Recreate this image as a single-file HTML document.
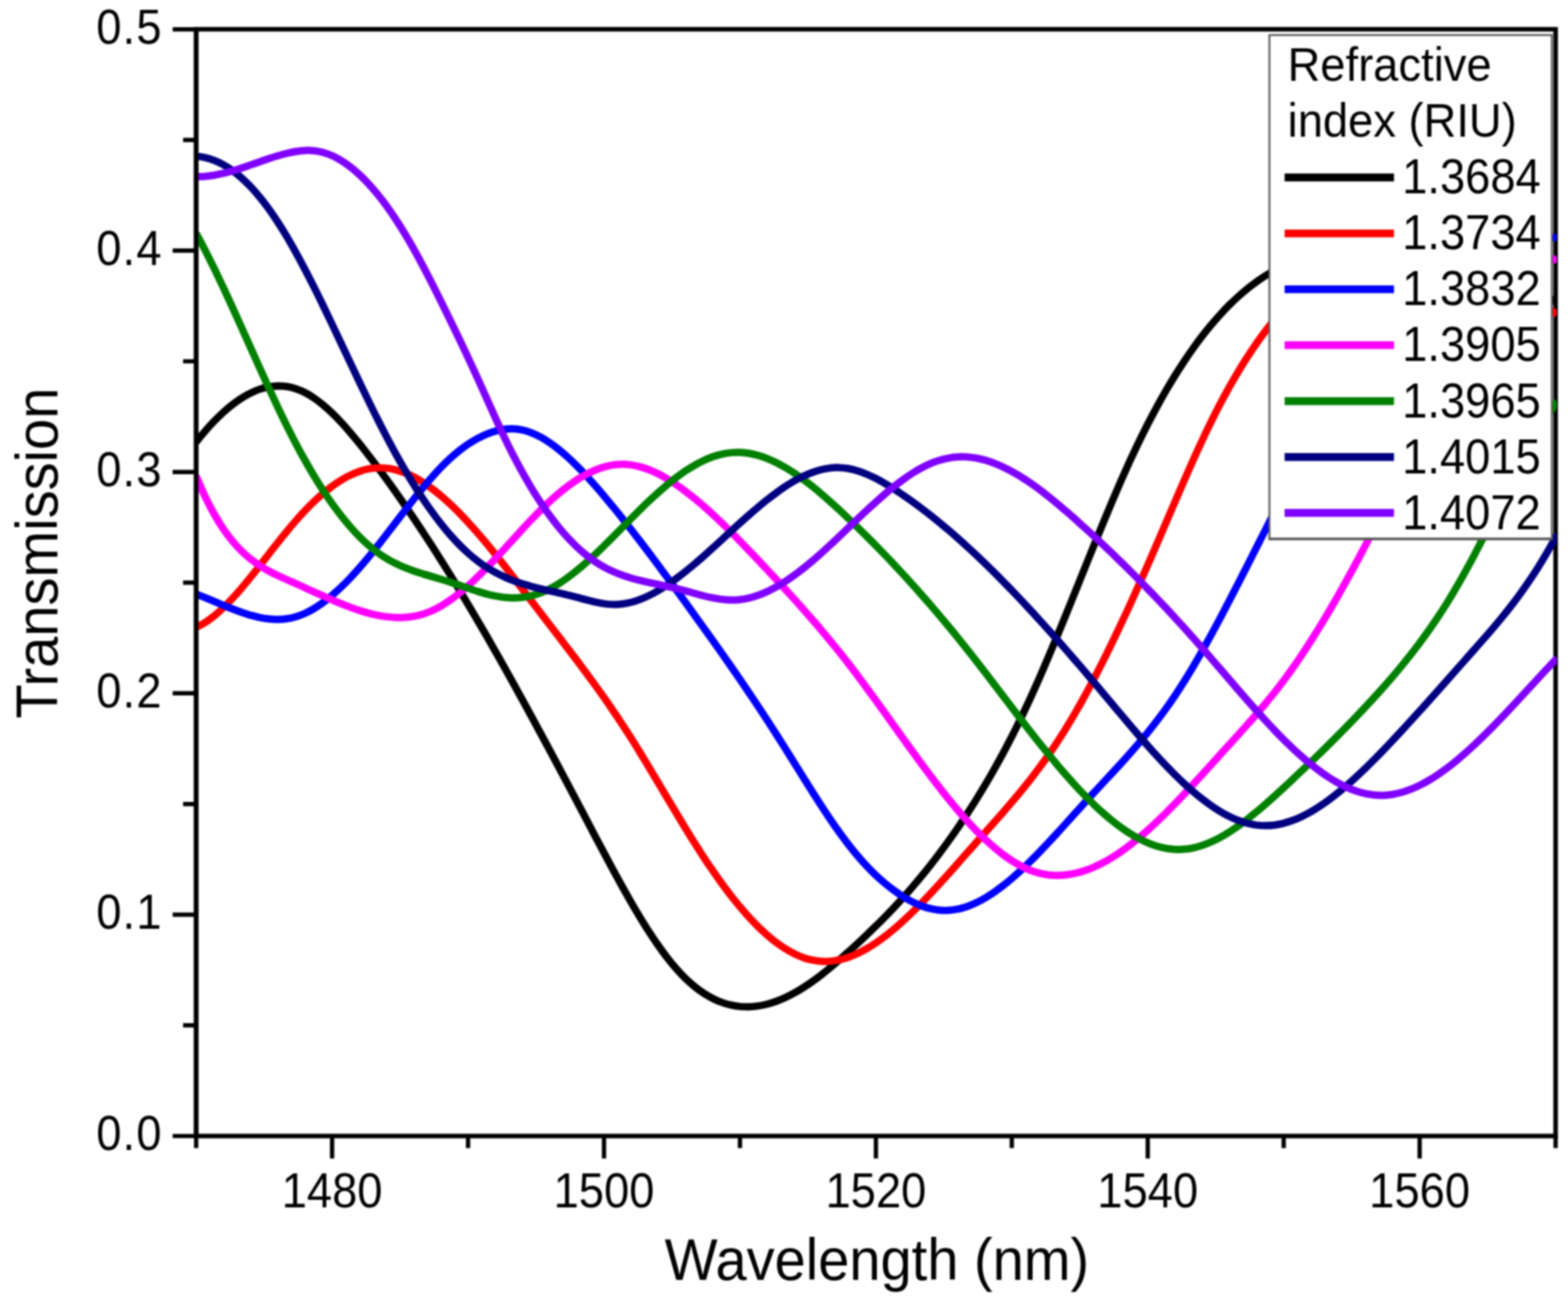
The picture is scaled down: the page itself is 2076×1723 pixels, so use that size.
<!DOCTYPE html>
<html lang="en"><head><meta charset="utf-8"><title>Transmission vs Wavelength</title>
<style>html,body{margin:0;padding:0;background:#fff;}body{width:2076px;height:1723px;overflow:hidden;}svg{display:block;}text{font-family:"Liberation Sans",Arial,sans-serif;fill:#000;stroke:none;stroke-width:0px;}.tk{font-size:60px;}.ty{letter-spacing:1.5px;}.ti{font-size:74.2px;}.lg{font-size:60px;}.c{fill:none;stroke-width:9.7;stroke-linecap:butt;stroke-linejoin:round;}.ax{stroke:#000;stroke-width:6;fill:none;}.t{stroke:#000;stroke-width:5.7;fill:none;}.s{stroke-width:10.4;fill:none;}</style></head><body>
<svg width="2076" height="1723" viewBox="0 0 2076 1723">
<defs><clipPath id="cp"><rect x="257.7" y="38.8" width="1803.3" height="1465.7"/></clipPath><filter id="bl" x="0" y="0" width="2076" height="1723" filterUnits="userSpaceOnUse" color-interpolation-filters="sRGB"><feGaussianBlur stdDeviation="0.8"/></filter></defs>
<rect width="2076" height="1723" fill="#fff"/>
<g filter="url(#bl)">
<rect width="2076" height="1723" fill="#fff"/>
<path class="t" d="M228.6 38.8H259.7M242.4 185.4H259.7M228.6 331.9H259.7M242.4 478.5H259.7M228.6 625.1H259.7M242.4 771.6H259.7M228.6 918.2H259.7M242.4 1064.8H259.7M228.6 1211.4H259.7M242.4 1357.9H259.7M228.6 1504.5H259.7M259.7 1504.5V1520.5M439.7 1504.5V1534.3M619.7 1504.5V1520.5M799.7 1504.5V1534.3M979.7 1504.5V1520.5M1159.7 1504.5V1534.3M1339.6 1504.5V1520.5M1519.6 1504.5V1534.3M1699.6 1504.5V1520.5M1879.6 1504.5V1534.3M2059.6 1504.5V1520.5"/>
<path class="ax" d="M259.7 38.8H2059.6V1504.5H259.7Z"/>
<g clip-path="url(#cp)">
<path class="c" stroke="#000000" d="M259.7 585.4C263.7 580.3 267.7 575.5 271.7 570.9C275.7 566.2 279.7 561.8 283.7 557.7C287.7 553.6 291.7 549.7 295.7 546.0C299.7 542.4 303.7 539.0 307.7 535.9C311.7 532.8 315.7 529.9 319.7 527.4C323.7 524.8 327.7 522.5 331.7 520.6C335.7 518.6 339.7 516.9 343.7 515.5C347.7 514.2 351.7 513.1 355.7 512.4C359.7 511.6 363.7 511.2 367.7 511.1C371.7 511.1 375.7 511.3 379.7 511.9C383.7 512.5 387.7 513.5 391.7 514.8C395.7 516.1 399.7 517.8 403.7 519.9C407.7 521.9 411.7 524.3 415.7 527.1C419.7 529.8 423.7 532.9 427.7 536.2C431.7 539.5 435.7 543.1 439.7 547.0C443.7 550.9 447.7 555.0 451.7 559.3C455.7 563.6 459.7 568.1 463.7 572.8C467.7 577.5 471.7 582.3 475.7 587.3C479.7 592.3 483.7 597.4 487.7 602.6C491.7 607.7 495.7 613.0 499.7 618.4C503.7 623.7 507.7 629.2 511.7 634.7C515.7 640.2 519.7 645.8 523.7 651.4C527.7 657.1 531.7 662.8 535.7 668.6C539.7 674.4 543.7 680.3 547.7 686.2C551.7 692.2 555.7 698.2 559.7 704.3C563.7 710.4 567.7 716.5 571.7 722.7C575.7 728.9 579.7 735.2 583.7 741.6C587.7 747.9 591.7 754.3 595.7 760.8C599.7 767.3 603.7 773.8 607.7 780.4C611.7 787.0 615.7 793.7 619.7 800.4C623.7 807.1 627.7 813.9 631.7 820.7C635.7 827.5 639.7 834.4 643.7 841.3C647.7 848.3 651.7 855.3 655.7 862.3C659.7 869.4 663.7 876.4 667.7 883.6C671.7 890.7 675.7 897.9 679.7 905.1C683.7 912.3 687.7 919.6 691.7 926.9C695.7 934.2 699.7 941.5 703.7 948.9C707.7 956.2 711.7 963.6 715.7 971.1C719.7 978.5 723.7 985.9 727.7 993.4C731.7 1000.9 735.7 1008.4 739.7 1015.9C743.7 1023.4 747.7 1031.0 751.7 1038.5C755.7 1046.1 759.7 1053.7 763.7 1061.3C767.7 1068.8 771.7 1076.4 775.7 1084.0C779.7 1091.6 783.7 1099.3 787.7 1106.9C791.7 1114.5 795.7 1122.1 799.7 1129.6C803.7 1137.1 807.7 1144.6 811.7 1152.0C815.7 1159.4 819.7 1166.7 823.7 1173.9C827.7 1181.1 831.7 1188.2 835.7 1195.1C839.7 1202.1 843.7 1208.8 847.7 1215.4C851.7 1222.0 855.7 1228.4 859.7 1234.6C863.7 1240.8 867.7 1246.7 871.7 1252.4C875.7 1258.1 879.7 1263.6 883.7 1268.8C887.7 1273.9 891.7 1278.8 895.7 1283.3C899.7 1287.9 903.7 1292.1 907.7 1296.0C911.7 1299.8 915.7 1303.4 919.7 1306.6C923.7 1309.9 927.7 1312.8 931.7 1315.4C935.7 1318.0 939.7 1320.3 943.7 1322.3C947.7 1324.4 951.7 1326.1 955.7 1327.5C959.7 1329.0 963.7 1330.2 967.7 1331.1C971.7 1332.0 975.7 1332.6 979.7 1333.0C983.7 1333.4 987.7 1333.5 991.7 1333.4C995.7 1333.3 999.7 1332.9 1003.7 1332.3C1007.7 1331.8 1011.7 1330.9 1015.7 1329.9C1019.7 1328.9 1023.7 1327.6 1027.7 1326.2C1031.7 1324.7 1035.7 1323.1 1039.7 1321.2C1043.7 1319.4 1047.7 1317.3 1051.7 1315.1C1055.7 1312.9 1059.7 1310.5 1063.7 1307.9C1067.7 1305.4 1071.7 1302.7 1075.7 1299.8C1079.7 1296.9 1083.7 1293.9 1087.7 1290.8C1091.7 1287.7 1095.7 1284.5 1099.7 1281.1C1103.7 1277.8 1107.7 1274.4 1111.7 1270.9C1115.7 1267.4 1119.7 1263.8 1123.7 1260.2C1127.7 1256.6 1131.7 1252.9 1135.7 1249.2C1139.7 1245.5 1143.7 1241.7 1147.7 1237.9C1151.7 1234.1 1155.7 1230.2 1159.7 1226.3C1163.7 1222.4 1167.7 1218.4 1171.7 1214.3C1175.7 1210.2 1179.7 1206.0 1183.7 1201.8C1187.7 1197.5 1191.7 1193.2 1195.7 1188.7C1199.7 1184.3 1203.7 1179.8 1207.7 1175.1C1211.7 1170.5 1215.7 1165.7 1219.7 1160.9C1223.7 1156.0 1227.7 1151.0 1231.7 1145.9C1235.7 1140.9 1239.7 1135.7 1243.7 1130.3C1247.7 1125.0 1251.7 1119.6 1255.7 1114.0C1259.7 1108.4 1263.7 1102.7 1267.7 1096.9C1271.7 1091.0 1275.7 1085.1 1279.7 1079.0C1283.7 1072.8 1287.7 1066.6 1291.7 1060.2C1295.7 1053.8 1299.7 1047.2 1303.7 1040.5C1307.7 1033.8 1311.7 1026.9 1315.7 1019.8C1319.7 1012.8 1323.7 1005.5 1327.7 998.1C1331.7 990.7 1335.7 983.0 1339.7 975.2C1343.7 967.4 1347.7 959.3 1351.7 951.1C1355.7 942.8 1359.7 934.3 1363.7 925.6C1367.7 916.9 1371.7 908.0 1375.7 898.9C1379.7 889.8 1383.7 880.5 1387.7 871.0C1391.7 861.6 1395.7 852.0 1399.7 842.4C1403.7 832.7 1407.7 822.9 1411.7 813.1C1415.7 803.2 1419.7 793.3 1423.7 783.4C1427.7 773.5 1431.7 763.5 1435.7 753.6C1439.7 743.7 1443.7 733.8 1447.7 723.9C1451.7 714.1 1455.7 704.3 1459.7 694.6C1463.7 684.9 1467.7 675.3 1471.7 665.8C1475.7 656.4 1479.7 647.1 1483.7 637.9C1487.7 628.8 1491.7 619.9 1495.7 611.1C1499.7 602.4 1503.7 593.9 1507.7 585.6C1511.7 577.4 1515.7 569.3 1519.7 561.5C1523.7 553.7 1527.7 546.1 1531.7 538.8C1535.7 531.4 1539.7 524.3 1543.7 517.4C1547.7 510.5 1551.7 503.9 1555.7 497.4C1559.7 490.9 1563.7 484.7 1567.7 478.7C1571.7 472.6 1575.7 466.8 1579.7 461.2C1583.7 455.6 1587.7 450.2 1591.7 445.0C1595.7 439.9 1599.7 434.9 1603.7 430.1C1607.7 425.3 1611.7 420.8 1615.7 416.4C1619.7 412.0 1623.7 407.8 1627.7 403.8C1631.7 399.8 1635.7 396.1 1639.7 392.5C1643.7 388.9 1647.7 385.4 1651.7 382.2C1655.7 379.0 1659.7 376.0 1663.7 373.1C1667.7 370.2 1671.7 367.6 1675.7 365.0C1679.7 362.5 1683.7 360.2 1687.7 358.0C1691.7 355.8 1695.7 353.7 1699.7 351.9C1703.7 350.0 1707.7 348.2 1711.7 346.6C1715.7 345.0 1719.7 343.6 1723.7 342.2C1727.7 340.9 1731.7 339.7 1735.7 338.6C1739.7 337.5 1743.7 336.6 1747.7 335.7C1751.7 334.8 1755.7 334.1 1759.7 333.5C1763.7 332.8 1767.7 332.3 1771.7 331.8C1775.7 331.4 1779.7 331.0 1783.7 330.7C1787.7 330.5 1791.7 330.3 1795.7 330.1C1799.7 330.0 1803.7 330.0 1807.7 330.0C1811.7 330.0 1815.7 330.1 1819.7 330.2C1823.7 330.3 1827.7 330.5 1831.7 330.8C1835.7 331.0 1839.7 331.3 1843.7 331.6C1847.7 331.9 1851.7 332.2 1855.7 332.6C1859.7 333.0 1863.7 333.4 1867.7 333.8C1871.7 334.2 1875.7 334.7 1879.7 335.2C1883.7 335.7 1887.7 336.3 1891.7 336.9C1895.7 337.5 1899.7 338.2 1903.7 338.8C1907.7 339.5 1911.7 340.3 1915.7 341.1C1919.7 341.9 1923.7 342.7 1927.7 343.6C1931.7 344.5 1935.7 345.5 1939.7 346.5C1943.7 347.6 1947.7 348.6 1951.7 349.8C1955.7 350.9 1959.7 352.2 1963.7 353.4C1967.7 354.7 1971.7 356.1 1975.7 357.5C1979.7 359.0 1983.7 360.5 1987.7 362.0C1991.7 363.6 1995.7 365.3 1999.7 367.0C2003.7 368.8 2007.7 370.6 2011.7 372.5C2015.7 374.4 2019.7 376.4 2023.7 378.5C2027.7 380.6 2031.7 382.8 2035.7 385.0C2039.7 387.3 2043.7 389.7 2047.7 392.2C2051.7 394.6 2055.7 397.2 2059.7 399.9C2060.3 400.3 2061.0 400.7 2061.6 401.1"/>
<path class="c" stroke="#ff0000" d="M259.7 830.7C263.7 829.0 267.7 826.8 271.7 824.3C275.7 821.8 279.7 818.8 283.7 815.6C287.7 812.3 291.7 808.8 295.7 804.9C299.7 801.1 303.7 797.0 307.7 792.6C311.7 788.3 315.7 783.8 319.7 779.1C323.7 774.4 327.7 769.5 331.7 764.5C335.7 759.6 339.7 754.5 343.7 749.4C347.7 744.3 351.7 739.2 355.7 734.0C359.7 728.9 363.7 723.8 367.7 718.7C371.7 713.6 375.7 708.6 379.7 703.8C383.7 698.9 387.7 694.1 391.7 689.6C395.7 685.0 399.7 680.6 403.7 676.4C407.7 672.2 411.7 668.2 415.7 664.3C419.7 660.5 423.7 656.9 427.7 653.5C431.7 650.1 435.7 647.0 439.7 644.0C443.7 641.1 447.7 638.4 451.7 635.9C455.7 633.5 459.7 631.3 463.7 629.4C467.7 627.4 471.7 625.8 475.7 624.4C479.7 623.0 483.7 621.9 487.7 621.1C491.7 620.3 495.7 619.8 499.7 619.6C503.7 619.4 507.7 619.6 511.7 620.0C515.7 620.4 519.7 621.2 523.7 622.2C527.7 623.2 531.7 624.5 535.7 626.1C539.7 627.7 543.7 629.5 547.7 631.6C551.7 633.7 555.7 636.0 559.7 638.6C563.7 641.2 567.7 644.0 571.7 647.0C575.7 649.9 579.7 653.2 583.7 656.5C587.7 659.9 591.7 663.5 595.7 667.3C599.7 671.0 603.7 675.0 607.7 679.0C611.7 683.1 615.7 687.3 619.7 691.7C623.7 696.0 627.7 700.5 631.7 705.1C635.7 709.7 639.7 714.4 643.7 719.2C647.7 724.1 651.7 729.0 655.7 733.9C659.7 738.9 663.7 744.0 667.7 749.1C671.7 754.2 675.7 759.3 679.7 764.5C683.7 769.7 687.7 774.9 691.7 780.2C695.7 785.4 699.7 790.7 703.7 796.0C707.7 801.2 711.7 806.5 715.7 811.7C719.7 817.0 723.7 822.2 727.7 827.4C731.7 832.6 735.7 837.8 739.7 843.0C743.7 848.2 747.7 853.4 751.7 858.7C755.7 863.9 759.7 869.2 763.7 874.5C767.7 879.8 771.7 885.2 775.7 890.6C779.7 896.0 783.7 901.5 787.7 907.0C791.7 912.5 795.7 918.1 799.7 923.8C803.7 929.5 807.7 935.3 811.7 941.2C815.7 947.0 819.7 953.0 823.7 959.1C827.7 965.2 831.7 971.4 835.7 977.8C839.7 984.1 843.7 990.6 847.7 997.1C851.7 1003.6 855.7 1010.3 859.7 1016.9C863.7 1023.6 867.7 1030.3 871.7 1037.0C875.7 1043.8 879.7 1050.5 883.7 1057.2C887.7 1064.0 891.7 1070.7 895.7 1077.3C899.7 1084.0 903.7 1090.6 907.7 1097.2C911.7 1103.7 915.7 1110.2 919.7 1116.5C923.7 1122.9 927.7 1129.1 931.7 1135.3C935.7 1141.4 939.7 1147.3 943.7 1153.1C947.7 1158.9 951.7 1164.6 955.7 1170.1C959.7 1175.6 963.7 1180.9 967.7 1186.1C971.7 1191.2 975.7 1196.2 979.7 1200.9C983.7 1205.7 987.7 1210.3 991.7 1214.7C995.7 1219.0 999.7 1223.2 1003.7 1227.2C1007.7 1231.1 1011.7 1234.8 1015.7 1238.3C1019.7 1241.8 1023.7 1245.1 1027.7 1248.1C1031.7 1251.1 1035.7 1253.9 1039.7 1256.4C1043.7 1258.9 1047.7 1261.2 1051.7 1263.1C1055.7 1265.1 1059.7 1266.8 1063.7 1268.3C1067.7 1269.7 1071.7 1270.8 1075.7 1271.6C1079.7 1272.5 1083.7 1273.0 1087.7 1273.2C1091.7 1273.5 1095.7 1273.4 1099.7 1273.0C1103.7 1272.7 1107.7 1272.0 1111.7 1271.1C1115.7 1270.2 1119.7 1269.0 1123.7 1267.6C1127.7 1266.2 1131.7 1264.5 1135.7 1262.6C1139.7 1260.7 1143.7 1258.6 1147.7 1256.3C1151.7 1254.0 1155.7 1251.5 1159.7 1248.8C1163.7 1246.0 1167.7 1243.1 1171.7 1240.1C1175.7 1237.0 1179.7 1233.8 1183.7 1230.4C1187.7 1227.0 1191.7 1223.5 1195.7 1219.8C1199.7 1216.1 1203.7 1212.3 1207.7 1208.4C1211.7 1204.5 1215.7 1200.5 1219.7 1196.4C1223.7 1192.3 1227.7 1188.1 1231.7 1183.8C1235.7 1179.6 1239.7 1175.2 1243.7 1170.8C1247.7 1166.4 1251.7 1162.0 1255.7 1157.5C1259.7 1153.0 1263.7 1148.5 1267.7 1144.0C1271.7 1139.4 1275.7 1134.9 1279.7 1130.3C1283.7 1125.8 1287.7 1121.3 1291.7 1116.7C1295.7 1112.2 1299.7 1107.7 1303.7 1103.3C1307.7 1098.8 1311.7 1094.3 1315.7 1089.8C1319.7 1085.3 1323.7 1080.7 1327.7 1076.2C1331.7 1071.6 1335.7 1067.0 1339.7 1062.2C1343.7 1057.5 1347.7 1052.8 1351.7 1047.9C1355.7 1043.0 1359.7 1038.0 1363.7 1032.9C1367.7 1027.8 1371.7 1022.6 1375.7 1017.2C1379.7 1011.8 1383.7 1006.3 1387.7 1000.6C1391.7 994.9 1395.7 989.0 1399.7 982.9C1403.7 976.8 1407.7 970.5 1411.7 964.0C1415.7 957.5 1419.7 950.8 1423.7 943.9C1427.7 937.0 1431.7 929.9 1435.7 922.6C1439.7 915.4 1443.7 907.9 1447.7 900.3C1451.7 892.6 1455.7 884.9 1459.7 876.9C1463.7 869.0 1467.7 860.9 1471.7 852.6C1475.7 844.4 1479.7 836.0 1483.7 827.5C1487.7 819.0 1491.7 810.4 1495.7 801.7C1499.7 792.9 1503.7 784.1 1507.7 775.1C1511.7 766.2 1515.7 757.1 1519.7 748.0C1523.7 738.9 1527.7 729.6 1531.7 720.4C1535.7 711.1 1539.7 701.7 1543.7 692.4C1547.7 683.0 1551.7 673.7 1555.7 664.3C1559.7 655.0 1563.7 645.8 1567.7 636.6C1571.7 627.4 1575.7 618.4 1579.7 609.4C1583.7 600.5 1587.7 591.7 1591.7 583.2C1595.7 574.6 1599.7 566.3 1603.7 558.2C1607.7 550.1 1611.7 542.2 1615.7 534.6C1619.7 527.0 1623.7 519.6 1627.7 512.4C1631.7 505.3 1635.7 498.4 1639.7 491.7C1643.7 485.1 1647.7 478.6 1651.7 472.5C1655.7 466.3 1659.7 460.3 1663.7 454.6C1667.7 448.8 1671.7 443.3 1675.7 438.0C1679.7 432.8 1683.7 427.7 1687.7 422.9C1691.7 418.0 1695.7 413.4 1699.7 409.0C1703.7 404.5 1707.7 400.3 1711.7 396.3C1715.7 392.3 1719.7 388.5 1723.7 384.9C1727.7 381.3 1731.7 377.9 1735.7 374.7C1739.7 371.5 1743.7 368.4 1747.7 365.6C1751.7 362.8 1755.7 360.1 1759.7 357.6C1763.7 355.1 1767.7 352.9 1771.7 350.7C1775.7 348.6 1779.7 346.7 1783.7 344.9C1787.7 343.1 1791.7 341.5 1795.7 340.0C1799.7 338.6 1803.7 337.3 1807.7 336.2C1811.7 335.0 1815.7 334.1 1819.7 333.2C1823.7 332.4 1827.7 331.7 1831.7 331.2C1835.7 330.7 1839.7 330.3 1843.7 330.0C1847.7 329.8 1851.7 329.7 1855.7 329.7C1859.7 329.7 1863.7 329.8 1867.7 330.1C1871.7 330.4 1875.7 330.8 1879.7 331.3C1883.7 331.8 1887.7 332.5 1891.7 333.2C1895.7 334.0 1899.7 334.8 1903.7 335.8C1907.7 336.8 1911.7 337.9 1915.7 339.1C1919.7 340.2 1923.7 341.5 1927.7 342.9C1931.7 344.3 1935.7 345.8 1939.7 347.3C1943.7 348.9 1947.7 350.6 1951.7 352.3C1955.7 354.0 1959.7 355.9 1963.7 357.8C1967.7 359.7 1971.7 361.6 1975.7 363.7C1979.7 365.7 1983.7 367.9 1987.7 370.1C1991.7 372.2 1995.7 374.5 1999.7 376.8C2003.7 379.1 2007.7 381.5 2011.7 383.9C2015.7 386.4 2019.7 388.8 2023.7 391.4C2027.7 393.9 2031.7 396.5 2035.7 399.1C2039.7 401.7 2043.7 404.4 2047.7 407.1C2051.7 409.8 2055.7 412.5 2059.7 415.3C2060.3 415.7 2061.0 416.1 2061.6 416.6"/>
<path class="c" stroke="#0000ff" d="M259.7 786.7C263.7 788.2 267.7 789.8 271.7 791.4C275.7 793.1 279.7 794.8 283.7 796.5C287.7 798.2 291.7 799.9 295.7 801.6C299.7 803.2 303.7 804.9 307.7 806.4C311.7 808.0 315.7 809.5 319.7 810.9C323.7 812.3 327.7 813.6 331.7 814.8C335.7 815.9 339.7 816.9 343.7 817.8C347.7 818.6 351.7 819.3 355.7 819.7C359.7 820.1 363.7 820.4 367.7 820.3C371.7 820.3 375.7 820.0 379.7 819.4C383.7 818.9 387.7 818.0 391.7 816.8C395.7 815.6 399.7 814.1 403.7 812.3C407.7 810.5 411.7 808.4 415.7 806.0C419.7 803.6 423.7 800.9 427.7 798.0C431.7 795.0 435.7 791.9 439.7 788.5C443.7 785.0 447.7 781.4 451.7 777.6C455.7 773.7 459.7 769.7 463.7 765.5C467.7 761.2 471.7 756.8 475.7 752.3C479.7 747.7 483.7 743.0 487.7 738.2C491.7 733.4 495.7 728.4 499.7 723.3C503.7 718.3 507.7 713.1 511.7 707.9C515.7 702.7 519.7 697.5 523.7 692.3C527.7 687.0 531.7 681.8 535.7 676.6C539.7 671.4 543.7 666.2 547.7 661.2C551.7 656.1 555.7 651.1 559.7 646.3C563.7 641.4 567.7 636.7 571.7 632.2C575.7 627.6 579.7 623.3 583.7 619.1C587.7 615.0 591.7 611.1 595.7 607.4C599.7 603.7 603.7 600.3 607.7 597.1C611.7 594.0 615.7 591.0 619.7 588.3C623.7 585.7 627.7 583.2 631.7 581.0C635.7 578.9 639.7 576.9 643.7 575.2C647.7 573.5 651.7 572.1 655.7 571.0C659.7 569.8 663.7 569.0 667.7 568.4C671.7 567.9 675.7 567.7 679.7 567.9C683.7 568.0 687.7 568.6 691.7 569.5C695.7 570.3 699.7 571.6 703.7 573.2C707.7 574.7 711.7 576.6 715.7 578.8C719.7 581.0 723.7 583.5 727.7 586.2C731.7 588.9 735.7 591.9 739.7 595.2C743.7 598.4 747.7 601.8 751.7 605.5C755.7 609.1 759.7 613.0 763.7 617.0C767.7 621.0 771.7 625.2 775.7 629.5C779.7 633.9 783.7 638.3 787.7 642.9C791.7 647.4 795.7 652.1 799.7 656.8C803.7 661.6 807.7 666.4 811.7 671.3C815.7 676.2 819.7 681.1 823.7 686.2C827.7 691.2 831.7 696.3 835.7 701.4C839.7 706.5 843.7 711.7 847.7 717.0C851.7 722.2 855.7 727.5 859.7 732.8C863.7 738.2 867.7 743.5 871.7 748.9C875.7 754.3 879.7 759.8 883.7 765.2C887.7 770.7 891.7 776.2 895.7 781.7C899.7 787.2 903.7 792.7 907.7 798.2C911.7 803.8 915.7 809.3 919.7 814.8C923.7 820.4 927.7 826.0 931.7 831.5C935.7 837.1 939.7 842.7 943.7 848.3C947.7 854.0 951.7 859.6 955.7 865.3C959.7 871.0 963.7 876.7 967.7 882.4C971.7 888.2 975.7 894.0 979.7 899.8C983.7 905.6 987.7 911.5 991.7 917.4C995.7 923.4 999.7 929.3 1003.7 935.4C1007.7 941.4 1011.7 947.5 1015.7 953.6C1019.7 959.8 1023.7 966.0 1027.7 972.3C1031.7 978.5 1035.7 984.9 1039.7 991.3C1043.7 997.7 1047.7 1004.1 1051.7 1010.5C1055.7 1017.0 1059.7 1023.4 1063.7 1029.8C1067.7 1036.2 1071.7 1042.6 1075.7 1048.9C1079.7 1055.2 1083.7 1061.5 1087.7 1067.6C1091.7 1073.8 1095.7 1079.8 1099.7 1085.7C1103.7 1091.6 1107.7 1097.3 1111.7 1102.9C1115.7 1108.4 1119.7 1113.8 1123.7 1119.0C1127.7 1124.1 1131.7 1129.1 1135.7 1133.7C1139.7 1138.4 1143.7 1142.9 1147.7 1147.1C1151.7 1151.4 1155.7 1155.4 1159.7 1159.2C1163.7 1162.9 1167.7 1166.5 1171.7 1169.9C1175.7 1173.2 1179.7 1176.4 1183.7 1179.3C1187.7 1182.2 1191.7 1185.0 1195.7 1187.5C1199.7 1190.0 1203.7 1192.2 1207.7 1194.3C1211.7 1196.3 1215.7 1198.1 1219.7 1199.6C1223.7 1201.1 1227.7 1202.4 1231.7 1203.3C1235.7 1204.3 1239.7 1205.0 1243.7 1205.4C1247.7 1205.8 1251.7 1205.9 1255.7 1205.6C1259.7 1205.4 1263.7 1204.9 1267.7 1204.1C1271.7 1203.3 1275.7 1202.1 1279.7 1200.8C1283.7 1199.4 1287.7 1197.8 1291.7 1195.9C1295.7 1194.0 1299.7 1191.9 1303.7 1189.6C1307.7 1187.3 1311.7 1184.7 1315.7 1182.0C1319.7 1179.2 1323.7 1176.3 1327.7 1173.2C1331.7 1170.1 1335.7 1166.8 1339.7 1163.4C1343.7 1159.9 1347.7 1156.3 1351.7 1152.6C1355.7 1148.9 1359.7 1145.1 1363.7 1141.1C1367.7 1137.2 1371.7 1133.1 1375.7 1129.0C1379.7 1124.8 1383.7 1120.6 1387.7 1116.4C1391.7 1112.1 1395.7 1107.7 1399.7 1103.4C1403.7 1099.0 1407.7 1094.6 1411.7 1090.1C1415.7 1085.7 1419.7 1081.2 1423.7 1076.8C1427.7 1072.4 1431.7 1067.9 1435.7 1063.5C1439.7 1059.1 1443.7 1054.7 1447.7 1050.4C1451.7 1046.1 1455.7 1041.8 1459.7 1037.5C1463.7 1033.2 1467.7 1028.9 1471.7 1024.6C1475.7 1020.3 1479.7 1015.9 1483.7 1011.6C1487.7 1007.2 1491.7 1002.7 1495.7 998.2C1499.7 993.7 1503.7 989.1 1507.7 984.4C1511.7 979.7 1515.7 974.9 1519.7 970.0C1523.7 965.0 1527.7 960.0 1531.7 954.7C1535.7 949.5 1539.7 944.1 1543.7 938.5C1547.7 932.9 1551.7 927.2 1555.7 921.2C1559.7 915.2 1563.7 909.0 1567.7 902.6C1571.7 896.2 1575.7 889.6 1579.7 882.9C1583.7 876.1 1587.7 869.2 1591.7 862.1C1595.7 855.0 1599.7 847.8 1603.7 840.5C1607.7 833.2 1611.7 825.7 1615.7 818.2C1619.7 810.7 1623.7 803.0 1627.7 795.3C1631.7 787.6 1635.7 779.8 1639.7 772.0C1643.7 764.2 1647.7 756.3 1651.7 748.5C1655.7 740.6 1659.7 732.7 1663.7 724.8C1667.7 716.9 1671.7 709.0 1675.7 701.1C1679.7 693.2 1683.7 685.3 1687.7 677.4C1691.7 669.6 1695.7 661.8 1699.7 654.0C1703.7 646.2 1707.7 638.4 1711.7 630.8C1715.7 623.1 1719.7 615.4 1723.7 607.9C1727.7 600.3 1731.7 592.8 1735.7 585.4C1739.7 578.0 1743.7 570.6 1747.7 563.4C1751.7 556.2 1755.7 549.1 1759.7 542.0C1763.7 535.0 1767.7 528.1 1771.7 521.3C1775.7 514.5 1779.7 507.9 1783.7 501.4C1787.7 494.9 1791.7 488.5 1795.7 482.3C1799.7 476.1 1803.7 470.0 1807.7 464.1C1811.7 458.2 1815.7 452.5 1819.7 447.0C1823.7 441.4 1827.7 436.1 1831.7 430.9C1835.7 425.8 1839.7 420.8 1843.7 416.1C1847.7 411.3 1851.7 406.8 1855.7 402.5C1859.7 398.2 1863.7 394.1 1867.7 390.2C1871.7 386.3 1875.7 382.6 1879.7 379.1C1883.7 375.6 1887.7 372.3 1891.7 369.2C1895.7 366.1 1899.7 363.1 1903.7 360.4C1907.7 357.6 1911.7 355.0 1915.7 352.6C1919.7 350.1 1923.7 347.9 1927.7 345.7C1931.7 343.6 1935.7 341.6 1939.7 339.8C1943.7 337.9 1947.7 336.2 1951.7 334.7C1955.7 333.1 1959.7 331.6 1963.7 330.3C1967.7 328.9 1971.7 327.7 1975.7 326.6C1979.7 325.5 1983.7 324.5 1987.7 323.5C1991.7 322.6 1995.7 321.8 1999.7 321.0C2003.7 320.3 2007.7 319.6 2011.7 319.0C2015.7 318.4 2019.7 317.9 2023.7 317.4C2027.7 317.0 2031.7 316.5 2035.7 316.2C2039.7 315.8 2043.7 315.5 2047.7 315.2C2051.7 315.0 2055.7 314.7 2059.7 314.5C2060.3 314.5 2061.0 314.4 2061.6 314.4"/>
<path class="c" stroke="#ff00ff" d="M259.7 630.3C263.7 640.3 267.7 649.4 271.7 657.8C275.7 666.2 279.7 674.0 283.7 681.0C287.7 688.1 291.7 694.6 295.7 700.4C299.7 706.3 303.7 711.6 307.7 716.5C311.7 721.3 315.7 725.7 319.7 729.6C323.7 733.6 327.7 737.1 331.7 740.3C335.7 743.5 339.7 746.4 343.7 749.0C347.7 751.6 351.7 754.0 355.7 756.1C359.7 758.3 363.7 760.3 367.7 762.2C371.7 764.1 375.7 765.9 379.7 767.6C383.7 769.4 387.7 771.1 391.7 772.9C395.7 774.7 399.7 776.5 403.7 778.3C407.7 780.1 411.7 781.9 415.7 783.8C419.7 785.6 423.7 787.4 427.7 789.2C431.7 791.0 435.7 792.8 439.7 794.5C443.7 796.3 447.7 798.0 451.7 799.6C455.7 801.2 459.7 802.8 463.7 804.3C467.7 805.7 471.7 807.1 475.7 808.4C479.7 809.7 483.7 810.9 487.7 812.0C491.7 813.1 495.7 814.0 499.7 814.8C503.7 815.6 507.7 816.3 511.7 816.8C515.7 817.3 519.7 817.6 523.7 817.8C527.7 818.0 531.7 817.9 535.7 817.7C539.7 817.5 543.7 817.0 547.7 816.3C551.7 815.6 555.7 814.7 559.7 813.5C563.7 812.2 567.7 810.7 571.7 808.9C575.7 807.1 579.7 805.0 583.7 802.7C587.7 800.4 591.7 797.8 595.7 795.0C599.7 792.2 603.7 789.2 607.7 786.0C611.7 782.7 615.7 779.3 619.7 775.8C623.7 772.2 627.7 768.5 631.7 764.6C635.7 760.8 639.7 756.8 643.7 752.7C647.7 748.6 651.7 744.4 655.7 740.1C659.7 735.9 663.7 731.5 667.7 727.2C671.7 722.8 675.7 718.4 679.7 714.0C683.7 709.6 687.7 705.2 691.7 700.8C695.7 696.5 699.7 692.2 703.7 688.0C707.7 683.8 711.7 679.6 715.7 675.7C719.7 671.7 723.7 667.8 727.7 664.1C731.7 660.4 735.7 656.9 739.7 653.5C743.7 650.2 747.7 647.0 751.7 644.0C755.7 641.0 759.7 638.2 763.7 635.6C767.7 633.0 771.7 630.6 775.7 628.5C779.7 626.3 783.7 624.4 787.7 622.7C791.7 621.0 795.7 619.6 799.7 618.5C803.7 617.3 807.7 616.4 811.7 615.8C815.7 615.2 819.7 614.9 823.7 614.9C827.7 614.8 831.7 615.1 835.7 615.7C839.7 616.3 843.7 617.1 847.7 618.2C851.7 619.3 855.7 620.7 859.7 622.3C863.7 623.9 867.7 625.7 871.7 627.7C875.7 629.8 879.7 632.0 883.7 634.4C887.7 636.8 891.7 639.4 895.7 642.1C899.7 644.9 903.7 647.7 907.7 650.8C911.7 653.8 915.7 656.9 919.7 660.2C923.7 663.5 927.7 666.9 931.7 670.4C935.7 673.9 939.7 677.5 943.7 681.2C947.7 684.9 951.7 688.7 955.7 692.6C959.7 696.4 963.7 700.4 967.7 704.4C971.7 708.4 975.7 712.5 979.7 716.6C983.7 720.7 987.7 724.9 991.7 729.1C995.7 733.3 999.7 737.5 1003.7 741.7C1007.7 746.0 1011.7 750.3 1015.7 754.5C1019.7 758.8 1023.7 763.1 1027.7 767.4C1031.7 771.7 1035.7 776.1 1039.7 780.4C1043.7 784.8 1047.7 789.2 1051.7 793.6C1055.7 798.1 1059.7 802.5 1063.7 807.1C1067.7 811.6 1071.7 816.1 1075.7 820.8C1079.7 825.4 1083.7 830.0 1087.7 834.8C1091.7 839.5 1095.7 844.3 1099.7 849.2C1103.7 854.1 1107.7 859.0 1111.7 864.0C1115.7 869.0 1119.7 874.1 1123.7 879.3C1127.7 884.5 1131.7 889.7 1135.7 895.1C1139.7 900.4 1143.7 905.8 1147.7 911.3C1151.7 916.7 1155.7 922.2 1159.7 927.8C1163.7 933.3 1167.7 938.9 1171.7 944.4C1175.7 950.0 1179.7 955.6 1183.7 961.2C1187.7 966.8 1191.7 972.4 1195.7 978.0C1199.7 983.6 1203.7 989.1 1207.7 994.7C1211.7 1000.2 1215.7 1005.7 1219.7 1011.1C1223.7 1016.5 1227.7 1021.9 1231.7 1027.2C1235.7 1032.5 1239.7 1037.7 1243.7 1042.8C1247.7 1048.0 1251.7 1053.0 1255.7 1058.0C1259.7 1062.9 1263.7 1067.8 1267.7 1072.5C1271.7 1077.2 1275.7 1081.8 1279.7 1086.2C1283.7 1090.6 1287.7 1094.9 1291.7 1099.1C1295.7 1103.2 1299.7 1107.2 1303.7 1111.0C1307.7 1114.8 1311.7 1118.4 1315.7 1121.8C1319.7 1125.3 1323.7 1128.5 1327.7 1131.5C1331.7 1134.5 1335.7 1137.3 1339.7 1139.9C1343.7 1142.5 1347.7 1144.8 1351.7 1146.9C1355.7 1149.0 1359.7 1150.8 1363.7 1152.4C1367.7 1153.9 1371.7 1155.2 1375.7 1156.3C1379.7 1157.3 1383.7 1158.0 1387.7 1158.6C1391.7 1159.1 1395.7 1159.3 1399.7 1159.3C1403.7 1159.3 1407.7 1159.1 1411.7 1158.6C1415.7 1158.2 1419.7 1157.5 1423.7 1156.6C1427.7 1155.7 1431.7 1154.6 1435.7 1153.2C1439.7 1151.9 1443.7 1150.4 1447.7 1148.6C1451.7 1146.9 1455.7 1145.0 1459.7 1142.9C1463.7 1140.8 1467.7 1138.5 1471.7 1136.1C1475.7 1133.6 1479.7 1131.0 1483.7 1128.2C1487.7 1125.4 1491.7 1122.5 1495.7 1119.4C1499.7 1116.4 1503.7 1113.2 1507.7 1109.8C1511.7 1106.5 1515.7 1103.0 1519.7 1099.4C1523.7 1095.8 1527.7 1092.1 1531.7 1088.3C1535.7 1084.5 1539.7 1080.6 1543.7 1076.6C1547.7 1072.6 1551.7 1068.5 1555.7 1064.4C1559.7 1060.2 1563.7 1056.0 1567.7 1051.8C1571.7 1047.5 1575.7 1043.2 1579.7 1038.9C1583.7 1034.5 1587.7 1030.1 1591.7 1025.7C1595.7 1021.3 1599.7 1016.9 1603.7 1012.5C1607.7 1008.1 1611.7 1003.7 1615.7 999.2C1619.7 994.8 1623.7 990.4 1627.7 986.0C1631.7 981.6 1635.7 977.2 1639.7 972.8C1643.7 968.4 1647.7 963.9 1651.7 959.4C1655.7 954.9 1659.7 950.3 1663.7 945.7C1667.7 941.0 1671.7 936.3 1675.7 931.5C1679.7 926.6 1683.7 921.7 1687.7 916.7C1691.7 911.6 1695.7 906.4 1699.7 901.1C1703.7 895.7 1707.7 890.2 1711.7 884.6C1715.7 878.9 1719.7 873.1 1723.7 867.1C1727.7 861.1 1731.7 855.0 1735.7 848.7C1739.7 842.4 1743.7 836.0 1747.7 829.5C1751.7 822.9 1755.7 816.2 1759.7 809.4C1763.7 802.6 1767.7 795.7 1771.7 788.7C1775.7 781.6 1779.7 774.5 1783.7 767.2C1787.7 760.0 1791.7 752.6 1795.7 745.1C1799.7 737.7 1803.7 730.1 1807.7 722.5C1811.7 714.9 1815.7 707.1 1819.7 699.3C1823.7 691.6 1827.7 683.7 1831.7 675.8C1835.7 667.9 1839.7 660.0 1843.7 652.0C1847.7 644.1 1851.7 636.1 1855.7 628.1C1859.7 620.2 1863.7 612.2 1867.7 604.3C1871.7 596.4 1875.7 588.5 1879.7 580.6C1883.7 572.8 1887.7 565.0 1891.7 557.3C1895.7 549.5 1899.7 541.9 1903.7 534.4C1907.7 526.8 1911.7 519.4 1915.7 512.1C1919.7 504.8 1923.7 497.6 1927.7 490.5C1931.7 483.5 1935.7 476.6 1939.7 469.9C1943.7 463.2 1947.7 456.6 1951.7 450.3C1955.7 443.9 1959.7 437.7 1963.7 431.8C1967.7 425.9 1971.7 420.1 1975.7 414.7C1979.7 409.2 1983.7 403.9 1987.7 399.0C1991.7 394.0 1995.7 389.3 1999.7 384.9C2003.7 380.5 2007.7 376.3 2011.7 372.5C2015.7 368.7 2019.7 365.2 2023.7 362.1C2027.7 358.9 2031.7 356.1 2035.7 353.6C2039.7 351.1 2043.7 349.0 2047.7 347.3C2051.7 345.6 2055.7 344.3 2059.7 343.3C2060.3 343.2 2061.0 343.1 2061.6 342.9"/>
<path class="c" stroke="#008000" d="M259.7 309.0C263.7 316.3 267.7 323.8 271.7 331.6C275.7 339.5 279.7 347.5 283.7 355.7C287.7 364.0 291.7 372.4 295.7 380.9C299.7 389.5 303.7 398.2 307.7 406.9C311.7 415.7 315.7 424.6 319.7 433.5C323.7 442.4 327.7 451.3 331.7 460.3C335.7 469.2 339.7 478.1 343.7 487.0C347.7 495.8 351.7 504.6 355.7 513.3C359.7 522.0 363.7 530.6 367.7 539.1C371.7 547.5 375.7 555.8 379.7 563.8C383.7 571.9 387.7 579.8 391.7 587.4C395.7 595.0 399.7 602.4 403.7 609.5C407.7 616.6 411.7 623.5 415.7 630.2C419.7 636.8 423.7 643.2 427.7 649.3C431.7 655.5 435.7 661.4 439.7 667.0C443.7 672.6 447.7 678.0 451.7 683.1C455.7 688.2 459.7 693.1 463.7 697.6C467.7 702.2 471.7 706.5 475.7 710.6C479.7 714.6 483.7 718.4 487.7 721.9C491.7 725.4 495.7 728.7 499.7 731.6C503.7 734.6 507.7 737.2 511.7 739.6C515.7 742.1 519.7 744.2 523.7 746.2C527.7 748.2 531.7 750.0 535.7 751.6C539.7 753.2 543.7 754.7 547.7 756.1C551.7 757.5 555.7 758.7 559.7 760.0C563.7 761.2 567.7 762.4 571.7 763.5C575.7 764.7 579.7 765.9 583.7 767.1C587.7 768.3 591.7 769.5 595.7 770.8C599.7 772.2 603.7 773.5 607.7 774.9C611.7 776.3 615.7 777.7 619.7 779.0C623.7 780.4 627.7 781.7 631.7 783.0C635.7 784.2 639.7 785.4 643.7 786.5C647.7 787.6 651.7 788.5 655.7 789.3C659.7 790.1 663.7 790.7 667.7 791.2C671.7 791.6 675.7 791.8 679.7 791.8C683.7 791.8 687.7 791.6 691.7 791.1C695.7 790.7 699.7 790.0 703.7 789.0C707.7 788.0 711.7 786.8 715.7 785.3C719.7 783.7 723.7 782.0 727.7 779.9C731.7 777.9 735.7 775.6 739.7 773.1C743.7 770.6 747.7 767.8 751.7 764.9C755.7 762.0 759.7 758.9 763.7 755.6C767.7 752.4 771.7 749.0 775.7 745.4C779.7 741.9 783.7 738.2 787.7 734.5C791.7 730.7 795.7 726.8 799.7 722.9C803.7 719.0 807.7 715.0 811.7 711.0C815.7 707.0 819.7 702.9 823.7 698.9C827.7 694.8 831.7 690.8 835.7 686.7C839.7 682.7 843.7 678.7 847.7 674.8C851.7 670.8 855.7 666.9 859.7 663.1C863.7 659.4 867.7 655.7 871.7 652.1C875.7 648.5 879.7 645.0 883.7 641.7C887.7 638.4 891.7 635.2 895.7 632.2C899.7 629.2 903.7 626.3 907.7 623.6C911.7 621.0 915.7 618.5 919.7 616.2C923.7 613.9 927.7 611.8 931.7 609.9C935.7 608.0 939.7 606.4 943.7 604.9C947.7 603.5 951.7 602.3 955.7 601.4C959.7 600.5 963.7 599.8 967.7 599.5C971.7 599.1 975.7 599.0 979.7 599.1C983.7 599.3 987.7 599.7 991.7 600.4C995.7 601.1 999.7 602.0 1003.7 603.1C1007.7 604.3 1011.7 605.7 1015.7 607.2C1019.7 608.8 1023.7 610.6 1027.7 612.6C1031.7 614.6 1035.7 616.8 1039.7 619.1C1043.7 621.4 1047.7 624.0 1051.7 626.6C1055.7 629.3 1059.7 632.1 1063.7 635.1C1067.7 638.0 1071.7 641.1 1075.7 644.3C1079.7 647.5 1083.7 650.8 1087.7 654.3C1091.7 657.7 1095.7 661.2 1099.7 664.8C1103.7 668.3 1107.7 672.0 1111.7 675.7C1115.7 679.5 1119.7 683.2 1123.7 687.1C1127.7 690.9 1131.7 694.8 1135.7 698.7C1139.7 702.6 1143.7 706.5 1147.7 710.5C1151.7 714.5 1155.7 718.5 1159.7 722.6C1163.7 726.7 1167.7 730.8 1171.7 735.0C1175.7 739.1 1179.7 743.3 1183.7 747.6C1187.7 751.9 1191.7 756.2 1195.7 760.5C1199.7 764.9 1203.7 769.3 1207.7 773.7C1211.7 778.1 1215.7 782.6 1219.7 787.2C1223.7 791.7 1227.7 796.3 1231.7 800.9C1235.7 805.6 1239.7 810.2 1243.7 815.0C1247.7 819.7 1251.7 824.5 1255.7 829.3C1259.7 834.2 1263.7 839.1 1267.7 844.0C1271.7 849.0 1275.7 854.0 1279.7 859.0C1283.7 864.0 1287.7 869.1 1291.7 874.3C1295.7 879.4 1299.7 884.6 1303.7 889.8C1307.7 895.0 1311.7 900.3 1315.7 905.5C1319.7 910.8 1323.7 916.0 1327.7 921.3C1331.7 926.5 1335.7 931.8 1339.7 937.0C1343.7 942.3 1347.7 947.5 1351.7 952.7C1355.7 957.9 1359.7 963.1 1363.7 968.2C1367.7 973.3 1371.7 978.4 1375.7 983.4C1379.7 988.4 1383.7 993.4 1387.7 998.3C1391.7 1003.2 1395.7 1008.1 1399.7 1012.8C1403.7 1017.6 1407.7 1022.2 1411.7 1026.8C1415.7 1031.4 1419.7 1035.8 1423.7 1040.2C1427.7 1044.5 1431.7 1048.8 1435.7 1052.9C1439.7 1057.0 1443.7 1061.0 1447.7 1064.9C1451.7 1068.7 1455.7 1072.5 1459.7 1076.0C1463.7 1079.6 1467.7 1083.0 1471.7 1086.2C1475.7 1089.5 1479.7 1092.6 1483.7 1095.5C1487.7 1098.3 1491.7 1101.1 1495.7 1103.6C1499.7 1106.1 1503.7 1108.4 1507.7 1110.5C1511.7 1112.6 1515.7 1114.5 1519.7 1116.2C1523.7 1117.9 1527.7 1119.4 1531.7 1120.6C1535.7 1121.8 1539.7 1122.8 1543.7 1123.5C1547.7 1124.2 1551.7 1124.7 1555.7 1124.9C1559.7 1125.1 1563.7 1125.1 1567.7 1124.7C1571.7 1124.4 1575.7 1123.8 1579.7 1122.9C1583.7 1122.1 1587.7 1120.9 1591.7 1119.6C1595.7 1118.2 1599.7 1116.7 1603.7 1114.9C1607.7 1113.1 1611.7 1111.1 1615.7 1108.9C1619.7 1106.7 1623.7 1104.3 1627.7 1101.8C1631.7 1099.2 1635.7 1096.5 1639.7 1093.7C1643.7 1090.8 1647.7 1087.9 1651.7 1084.8C1655.7 1081.6 1659.7 1078.4 1663.7 1075.1C1667.7 1071.8 1671.7 1068.3 1675.7 1064.8C1679.7 1061.3 1683.7 1057.8 1687.7 1054.1C1691.7 1050.5 1695.7 1046.8 1699.7 1043.1C1703.7 1039.4 1707.7 1035.7 1711.7 1031.9C1715.7 1028.2 1719.7 1024.4 1723.7 1020.6C1727.7 1016.8 1731.7 1013.0 1735.7 1009.2C1739.7 1005.3 1743.7 1001.4 1747.7 997.5C1751.7 993.6 1755.7 989.7 1759.7 985.7C1763.7 981.8 1767.7 977.8 1771.7 973.8C1775.7 969.7 1779.7 965.6 1783.7 961.5C1787.7 957.4 1791.7 953.3 1795.7 949.1C1799.7 944.9 1803.7 940.7 1807.7 936.4C1811.7 932.1 1815.7 927.7 1819.7 923.4C1823.7 919.0 1827.7 914.6 1831.7 910.0C1835.7 905.5 1839.7 901.0 1843.7 896.3C1847.7 891.6 1851.7 886.9 1855.7 882.0C1859.7 877.2 1863.7 872.2 1867.7 867.1C1871.7 862.0 1875.7 856.8 1879.7 851.4C1883.7 846.0 1887.7 840.5 1891.7 834.9C1895.7 829.2 1899.7 823.3 1903.7 817.3C1907.7 811.3 1911.7 805.1 1915.7 798.7C1919.7 792.3 1923.7 785.7 1927.7 778.8C1931.7 772.0 1935.7 764.9 1939.7 757.7C1943.7 750.4 1947.7 743.0 1951.7 735.4C1955.7 727.8 1959.7 720.0 1963.7 712.2C1967.7 704.4 1971.7 696.5 1975.7 688.5C1979.7 680.6 1983.7 672.6 1987.7 664.6C1991.7 656.6 1995.7 648.7 1999.7 640.8C2003.7 632.9 2007.7 625.1 2011.7 617.4C2015.7 609.7 2019.7 602.1 2023.7 594.7C2027.7 587.3 2031.7 580.1 2035.7 573.1C2039.7 566.1 2043.7 559.3 2047.7 552.8C2051.7 546.3 2055.7 540.1 2059.7 534.2C2060.3 533.2 2061.0 532.3 2061.6 531.4"/>
<path class="c" stroke="#000080" d="M259.7 207.0C263.7 207.2 267.7 207.8 271.7 208.7C275.7 209.6 279.7 210.8 283.7 212.4C287.7 213.9 291.7 215.8 295.7 218.1C299.7 220.3 303.7 222.9 307.7 225.8C311.7 228.7 315.7 232.0 319.7 235.5C323.7 239.1 327.7 243.0 331.7 247.2C335.7 251.4 339.7 256.0 343.7 260.9C347.7 265.7 351.7 270.9 355.7 276.4C359.7 282.0 363.7 287.8 367.7 294.0C371.7 300.1 375.7 306.6 379.7 313.3C383.7 320.1 387.7 327.1 391.7 334.3C395.7 341.6 399.7 349.0 403.7 356.7C407.7 364.3 411.7 372.2 415.7 380.2C419.7 388.1 423.7 396.3 427.7 404.5C431.7 412.7 435.7 421.1 439.7 429.5C443.7 437.9 447.7 446.3 451.7 454.8C455.7 463.3 459.7 471.8 463.7 480.3C467.7 488.7 471.7 497.2 475.7 505.6C479.7 514.0 483.7 522.3 487.7 530.5C491.7 538.7 495.7 546.9 499.7 554.8C503.7 562.8 507.7 570.6 511.7 578.3C515.7 585.9 519.7 593.4 523.7 600.6C527.7 607.8 531.7 614.9 535.7 621.7C539.7 628.6 543.7 635.2 547.7 641.6C551.7 648.1 555.7 654.3 559.7 660.2C563.7 666.2 567.7 672.0 571.7 677.5C575.7 683.1 579.7 688.4 583.7 693.5C587.7 698.5 591.7 703.4 595.7 708.0C599.7 712.5 603.7 716.9 607.7 721.0C611.7 725.1 615.7 728.9 619.7 732.5C623.7 736.1 627.7 739.4 631.7 742.5C635.7 745.6 639.7 748.4 643.7 751.0C647.7 753.6 651.7 755.9 655.7 758.1C659.7 760.3 663.7 762.2 667.7 764.0C671.7 765.9 675.7 767.5 679.7 769.0C683.7 770.5 687.7 771.9 691.7 773.2C695.7 774.4 699.7 775.6 703.7 776.7C707.7 777.7 711.7 778.8 715.7 779.7C719.7 780.7 723.7 781.6 727.7 782.5C731.7 783.4 735.7 784.3 739.7 785.2C743.7 786.1 747.7 787.0 751.7 788.0C755.7 788.9 759.7 789.9 763.7 791.0C767.7 792.1 771.7 793.2 775.7 794.2C779.7 795.3 783.7 796.3 787.7 797.2C791.7 798.1 795.7 798.9 799.7 799.5C803.7 800.1 807.7 800.4 811.7 800.5C815.7 800.6 819.7 800.4 823.7 799.9C827.7 799.4 831.7 798.6 835.7 797.6C839.7 796.6 843.7 795.3 847.7 793.7C851.7 792.2 855.7 790.5 859.7 788.5C863.7 786.6 867.7 784.4 871.7 782.1C875.7 779.7 879.7 777.2 883.7 774.5C887.7 771.8 891.7 769.0 895.7 766.0C899.7 763.1 903.7 760.0 907.7 756.8C911.7 753.6 915.7 750.3 919.7 746.9C923.7 743.5 927.7 740.0 931.7 736.5C935.7 732.9 939.7 729.3 943.7 725.7C947.7 722.1 951.7 718.4 955.7 714.7C959.7 711.0 963.7 707.4 967.7 703.7C971.7 700.0 975.7 696.4 979.7 692.7C983.7 689.1 987.7 685.5 991.7 682.0C995.7 678.5 999.7 675.0 1003.7 671.7C1007.7 668.3 1011.7 665.0 1015.7 661.8C1019.7 658.7 1023.7 655.6 1027.7 652.7C1031.7 649.8 1035.7 647.0 1039.7 644.3C1043.7 641.7 1047.7 639.2 1051.7 636.9C1055.7 634.6 1059.7 632.5 1063.7 630.6C1067.7 628.7 1071.7 627.0 1075.7 625.6C1079.7 624.1 1083.7 622.9 1087.7 621.9C1091.7 620.9 1095.7 620.2 1099.7 619.7C1103.7 619.3 1107.7 619.1 1111.7 619.3C1115.7 619.4 1119.7 619.9 1123.7 620.6C1127.7 621.3 1131.7 622.4 1135.7 623.6C1139.7 624.9 1143.7 626.4 1147.7 628.1C1151.7 629.8 1155.7 631.7 1159.7 633.7C1163.7 635.8 1167.7 638.0 1171.7 640.4C1175.7 642.7 1179.7 645.2 1183.7 647.8C1187.7 650.4 1191.7 653.0 1195.7 655.7C1199.7 658.4 1203.7 661.2 1207.7 664.1C1211.7 667.0 1215.7 669.9 1219.7 673.0C1223.7 676.0 1227.7 679.1 1231.7 682.2C1235.7 685.4 1239.7 688.6 1243.7 691.9C1247.7 695.2 1251.7 698.5 1255.7 701.9C1259.7 705.3 1263.7 708.8 1267.7 712.4C1271.7 715.9 1275.7 719.5 1279.7 723.2C1283.7 726.8 1287.7 730.5 1291.7 734.3C1295.7 738.1 1299.7 741.9 1303.7 745.7C1307.7 749.6 1311.7 753.5 1315.7 757.5C1319.7 761.5 1323.7 765.5 1327.7 769.6C1331.7 773.7 1335.7 777.8 1339.7 781.9C1343.7 786.1 1347.7 790.3 1351.7 794.5C1355.7 798.8 1359.7 803.1 1363.7 807.4C1367.7 811.7 1371.7 816.1 1375.7 820.5C1379.7 824.9 1383.7 829.3 1387.7 833.8C1391.7 838.2 1395.7 842.7 1399.7 847.2C1403.7 851.8 1407.7 856.3 1411.7 860.9C1415.7 865.5 1419.7 870.1 1423.7 874.7C1427.7 879.4 1431.7 884.0 1435.7 888.7C1439.7 893.4 1443.7 898.1 1447.7 902.8C1451.7 907.6 1455.7 912.3 1459.7 917.1C1463.7 921.8 1467.7 926.6 1471.7 931.4C1475.7 936.2 1479.7 940.9 1483.7 945.7C1487.7 950.5 1491.7 955.2 1495.7 959.9C1499.7 964.6 1503.7 969.3 1507.7 974.0C1511.7 978.6 1515.7 983.2 1519.7 987.7C1523.7 992.2 1527.7 996.7 1531.7 1001.0C1535.7 1005.4 1539.7 1009.7 1543.7 1013.9C1547.7 1018.0 1551.7 1022.1 1555.7 1026.1C1559.7 1030.1 1563.7 1033.9 1567.7 1037.6C1571.7 1041.4 1575.7 1044.9 1579.7 1048.4C1583.7 1051.8 1587.7 1055.1 1591.7 1058.2C1595.7 1061.3 1599.7 1064.3 1603.7 1067.0C1607.7 1069.8 1611.7 1072.4 1615.7 1074.8C1619.7 1077.2 1623.7 1079.4 1627.7 1081.3C1631.7 1083.3 1635.7 1085.0 1639.7 1086.6C1643.7 1088.1 1647.7 1089.4 1651.7 1090.4C1655.7 1091.4 1659.7 1092.2 1663.7 1092.7C1667.7 1093.2 1671.7 1093.5 1675.7 1093.4C1679.7 1093.4 1683.7 1093.1 1687.7 1092.6C1691.7 1092.0 1695.7 1091.2 1699.7 1090.2C1703.7 1089.1 1707.7 1087.9 1711.7 1086.4C1715.7 1084.9 1719.7 1083.2 1723.7 1081.3C1727.7 1079.4 1731.7 1077.2 1735.7 1075.0C1739.7 1072.7 1743.7 1070.2 1747.7 1067.5C1751.7 1064.9 1755.7 1062.1 1759.7 1059.1C1763.7 1056.2 1767.7 1053.1 1771.7 1049.8C1775.7 1046.6 1779.7 1043.2 1783.7 1039.7C1787.7 1036.2 1791.7 1032.6 1795.7 1028.9C1799.7 1025.2 1803.7 1021.4 1807.7 1017.5C1811.7 1013.6 1815.7 1009.6 1819.7 1005.6C1823.7 1001.6 1827.7 997.5 1831.7 993.3C1835.7 989.2 1839.7 985.0 1843.7 980.7C1847.7 976.5 1851.7 972.2 1855.7 967.9C1859.7 963.6 1863.7 959.2 1867.7 954.8C1871.7 950.4 1875.7 946.0 1879.7 941.6C1883.7 937.2 1887.7 932.7 1891.7 928.2C1895.7 923.7 1899.7 919.2 1903.7 914.7C1907.7 910.2 1911.7 905.7 1915.7 901.2C1919.7 896.7 1923.7 892.2 1927.7 887.6C1931.7 883.1 1935.7 878.6 1939.7 874.1C1943.7 869.5 1947.7 865.0 1951.7 860.5C1955.7 856.0 1959.7 851.5 1963.7 846.9C1967.7 842.4 1971.7 837.8 1975.7 833.1C1979.7 828.4 1983.7 823.6 1987.7 818.7C1991.7 813.9 1995.7 808.9 1999.7 803.7C2003.7 798.6 2007.7 793.3 2011.7 787.8C2015.7 782.3 2019.7 776.7 2023.7 770.8C2027.7 765.0 2031.7 758.9 2035.7 752.6C2039.7 746.2 2043.7 739.6 2047.7 732.8C2051.7 725.9 2055.7 718.8 2059.7 711.3C2060.3 710.1 2061.0 708.9 2061.6 707.7"/>
<path class="c" stroke="#8000ff" d="M259.7 233.9C263.7 234.0 267.7 233.9 271.7 233.6C275.7 233.2 279.7 232.7 283.7 232.1C287.7 231.4 291.7 230.5 295.7 229.6C299.7 228.6 303.7 227.5 307.7 226.3C311.7 225.2 315.7 223.9 319.7 222.6C323.7 221.2 327.7 219.9 331.7 218.5C335.7 217.1 339.7 215.7 343.7 214.3C347.7 212.9 351.7 211.5 355.7 210.2C359.7 208.8 363.7 207.6 367.7 206.4C371.7 205.2 375.7 204.1 379.7 203.1C383.7 202.1 387.7 201.3 391.7 200.6C395.7 199.9 399.7 199.5 403.7 199.3C407.7 199.1 411.7 199.1 415.7 199.6C419.7 200.0 423.7 200.8 427.7 201.9C431.7 203.0 435.7 204.4 439.7 206.2C443.7 208.0 447.7 210.1 451.7 212.6C455.7 215.0 459.7 217.8 463.7 220.9C467.7 224.0 471.7 227.4 475.7 231.1C479.7 234.8 483.7 238.8 487.7 243.2C491.7 247.5 495.7 252.1 499.7 257.0C503.7 262.0 507.7 267.2 511.7 272.7C515.7 278.2 519.7 284.0 523.7 290.0C527.7 296.1 531.7 302.4 535.7 309.1C539.7 315.7 543.7 322.6 547.7 329.7C551.7 336.8 555.7 344.2 559.7 351.8C563.7 359.3 567.7 367.1 571.7 374.9C575.7 382.8 579.7 390.8 583.7 398.9C587.7 407.0 591.7 415.1 595.7 423.3C599.7 431.5 603.7 439.8 607.7 448.1C611.7 456.5 615.7 464.9 619.7 473.5C623.7 482.0 627.7 490.7 631.7 499.5C635.7 508.3 639.7 517.3 643.7 526.3C647.7 535.3 651.7 544.3 655.7 553.1C659.7 562.0 663.7 570.7 667.7 579.0C671.7 587.4 675.7 595.5 679.7 603.3C683.7 611.0 687.7 618.5 691.7 625.7C695.7 632.9 699.7 639.8 703.7 646.4C707.7 653.0 711.7 659.4 715.7 665.4C719.7 671.4 723.7 677.2 727.7 682.7C731.7 688.1 735.7 693.3 739.7 698.2C743.7 703.1 747.7 707.7 751.7 712.1C755.7 716.4 759.7 720.5 763.7 724.2C767.7 728.0 771.7 731.5 775.7 734.8C779.7 738.0 783.7 741.0 787.7 743.6C791.7 746.3 795.7 748.8 799.7 751.0C803.7 753.1 807.7 755.1 811.7 756.9C815.7 758.7 819.7 760.3 823.7 761.7C827.7 763.2 831.7 764.4 835.7 765.6C839.7 766.8 843.7 767.9 847.7 768.8C851.7 769.8 855.7 770.7 859.7 771.6C863.7 772.5 867.7 773.3 871.7 774.1C875.7 775.0 879.7 775.8 883.7 776.7C887.7 777.5 891.7 778.4 895.7 779.4C899.7 780.4 903.7 781.4 907.7 782.5C911.7 783.6 915.7 784.8 919.7 785.9C923.7 787.0 927.7 788.1 931.7 789.1C935.7 790.1 939.7 791.0 943.7 791.8C947.7 792.7 951.7 793.3 955.7 793.8C959.7 794.3 963.7 794.6 967.7 794.7C971.7 794.8 975.7 794.6 979.7 794.1C983.7 793.7 987.7 793.0 991.7 792.0C995.7 791.0 999.7 789.8 1003.7 788.4C1007.7 787.0 1011.7 785.3 1015.7 783.5C1019.7 781.6 1023.7 779.5 1027.7 777.3C1031.7 775.0 1035.7 772.6 1039.7 770.0C1043.7 767.4 1047.7 764.6 1051.7 761.7C1055.7 758.8 1059.7 755.8 1063.7 752.6C1067.7 749.4 1071.7 746.1 1075.7 742.7C1079.7 739.3 1083.7 735.8 1087.7 732.3C1091.7 728.7 1095.7 725.0 1099.7 721.3C1103.7 717.6 1107.7 713.8 1111.7 710.0C1115.7 706.2 1119.7 702.4 1123.7 698.6C1127.7 694.7 1131.7 690.9 1135.7 687.1C1139.7 683.3 1143.7 679.5 1147.7 675.8C1151.7 672.0 1155.7 668.4 1159.7 664.8C1163.7 661.2 1167.7 657.6 1171.7 654.2C1175.7 650.8 1179.7 647.5 1183.7 644.3C1187.7 641.1 1191.7 638.1 1195.7 635.2C1199.7 632.3 1203.7 629.5 1207.7 627.0C1211.7 624.4 1215.7 622.0 1219.7 619.9C1223.7 617.7 1227.7 615.7 1231.7 614.0C1235.7 612.3 1239.7 610.8 1243.7 609.6C1247.7 608.4 1251.7 607.4 1255.7 606.7C1259.7 605.9 1263.7 605.4 1267.7 605.2C1271.7 604.9 1275.7 604.9 1279.7 605.1C1283.7 605.4 1287.7 605.8 1291.7 606.5C1295.7 607.2 1299.7 608.1 1303.7 609.2C1307.7 610.4 1311.7 611.7 1315.7 613.2C1319.7 614.7 1323.7 616.4 1327.7 618.3C1331.7 620.1 1335.7 622.2 1339.7 624.4C1343.7 626.6 1347.7 628.9 1351.7 631.4C1355.7 633.9 1359.7 636.6 1363.7 639.3C1367.7 642.1 1371.7 644.9 1375.7 647.9C1379.7 650.9 1383.7 654.0 1387.7 657.2C1391.7 660.3 1395.7 663.6 1399.7 666.9C1403.7 670.3 1407.7 673.7 1411.7 677.2C1415.7 680.6 1419.7 684.1 1423.7 687.7C1427.7 691.3 1431.7 694.8 1435.7 698.5C1439.7 702.1 1443.7 705.8 1447.7 709.5C1451.7 713.2 1455.7 716.9 1459.7 720.7C1463.7 724.5 1467.7 728.3 1471.7 732.1C1475.7 736.0 1479.7 739.8 1483.7 743.8C1487.7 747.7 1491.7 751.6 1495.7 755.6C1499.7 759.6 1503.7 763.6 1507.7 767.7C1511.7 771.8 1515.7 775.9 1519.7 780.0C1523.7 784.1 1527.7 788.3 1531.7 792.5C1535.7 796.7 1539.7 801.0 1543.7 805.2C1547.7 809.5 1551.7 813.8 1555.7 818.2C1559.7 822.5 1563.7 826.9 1567.7 831.3C1571.7 835.8 1575.7 840.2 1579.7 844.7C1583.7 849.2 1587.7 853.7 1591.7 858.3C1595.7 862.9 1599.7 867.5 1603.7 872.1C1607.7 876.7 1611.7 881.4 1615.7 886.0C1619.7 890.7 1623.7 895.4 1627.7 900.0C1631.7 904.7 1635.7 909.3 1639.7 914.0C1643.7 918.6 1647.7 923.2 1651.7 927.7C1655.7 932.3 1659.7 936.8 1663.7 941.3C1667.7 945.8 1671.7 950.2 1675.7 954.5C1679.7 958.8 1683.7 963.1 1687.7 967.3C1691.7 971.5 1695.7 975.6 1699.7 979.6C1703.7 983.6 1707.7 987.4 1711.7 991.2C1715.7 995.0 1719.7 998.6 1723.7 1002.2C1727.7 1005.7 1731.7 1009.1 1735.7 1012.3C1739.7 1015.5 1743.7 1018.6 1747.7 1021.5C1751.7 1024.5 1755.7 1027.2 1759.7 1029.8C1763.7 1032.4 1767.7 1034.8 1771.7 1037.0C1775.7 1039.2 1779.7 1041.2 1783.7 1043.0C1787.7 1044.8 1791.7 1046.3 1795.7 1047.7C1799.7 1049.0 1803.7 1050.2 1807.7 1051.1C1811.7 1051.9 1815.7 1052.6 1819.7 1052.9C1823.7 1053.3 1827.7 1053.4 1831.7 1053.3C1835.7 1053.1 1839.7 1052.7 1843.7 1052.1C1847.7 1051.4 1851.7 1050.5 1855.7 1049.4C1859.7 1048.3 1863.7 1046.9 1867.7 1045.3C1871.7 1043.8 1875.7 1042.0 1879.7 1040.0C1883.7 1038.0 1887.7 1035.9 1891.7 1033.5C1895.7 1031.2 1899.7 1028.6 1903.7 1025.9C1907.7 1023.2 1911.7 1020.4 1915.7 1017.4C1919.7 1014.4 1923.7 1011.2 1927.7 1007.9C1931.7 1004.6 1935.7 1001.2 1939.7 997.7C1943.7 994.2 1947.7 990.5 1951.7 986.8C1955.7 983.0 1959.7 979.2 1963.7 975.3C1967.7 971.3 1971.7 967.3 1975.7 963.3C1979.7 959.2 1983.7 955.0 1987.7 950.9C1991.7 946.7 1995.7 942.4 1999.7 938.2C2003.7 933.9 2007.7 929.6 2011.7 925.2C2015.7 920.9 2019.7 916.6 2023.7 912.2C2027.7 907.9 2031.7 903.5 2035.7 899.2C2039.7 894.9 2043.7 890.6 2047.7 886.3C2051.7 882.0 2055.7 877.7 2059.7 873.5C2060.3 872.9 2061.0 872.2 2061.6 871.5"/>
</g>
<path class="ax" d="M259.7 38.8V1504.5"/>
<text class="tk ty" transform="translate(215.3 57.5) scale(1 1.075)" text-anchor="end">0.5</text>
<text class="tk ty" transform="translate(215.3 350.6) scale(1 1.075)" text-anchor="end">0.4</text>
<text class="tk ty" transform="translate(215.3 643.8) scale(1 1.075)" text-anchor="end">0.3</text>
<text class="tk ty" transform="translate(215.3 936.9) scale(1 1.075)" text-anchor="end">0.2</text>
<text class="tk ty" transform="translate(215.3 1230.1) scale(1 1.075)" text-anchor="end">0.1</text>
<text class="tk ty" transform="translate(215.3 1523.2) scale(1 1.075)" text-anchor="end">0.0</text>
<text class="tk" transform="translate(439.7 1599.3) scale(1 1.075)" text-anchor="middle">1480</text>
<text class="tk" transform="translate(799.7 1599.3) scale(1 1.075)" text-anchor="middle">1500</text>
<text class="tk" transform="translate(1159.7 1599.3) scale(1 1.075)" text-anchor="middle">1520</text>
<text class="tk" transform="translate(1519.6 1599.3) scale(1 1.075)" text-anchor="middle">1540</text>
<text class="tk" transform="translate(1879.6 1599.3) scale(1 1.075)" text-anchor="middle">1560</text>
<text class="ti" transform="translate(1161.0 1695.2) scale(1 1.060)" text-anchor="middle">Wavelength (nm)</text>
<text class="ti" transform="translate(75.8 732.6) rotate(-90) scale(1 1.060)" text-anchor="middle">Transmission</text>
<rect x="1680.7" y="46.4" width="373.9" height="666.8" fill="#fff" stroke="#606060" stroke-width="2.6"/>
<path d="M1679.4 713.8H2055.9" stroke="#5a5a5a" stroke-width="3.4" fill="none"/>
<text class="lg" transform="translate(1704.8 107.4) scale(1 1.060)">Refractive</text>
<text class="lg" transform="translate(1704.8 180.6) scale(1 1.060)">index (RIU)</text>
<path class="s" stroke="#000000" d="M1700.8 235.0H1845.6"/>
<text class="lg" transform="translate(1856.4 256.3) scale(1 1.080)">1.3684</text>
<path class="s" stroke="#ff0000" d="M1700.8 309.1H1845.6"/>
<text class="lg" transform="translate(1856.4 330.4) scale(1 1.080)">1.3734</text>
<path class="s" stroke="#0000ff" d="M1700.8 383.1H1845.6"/>
<text class="lg" transform="translate(1856.4 404.4) scale(1 1.080)">1.3832</text>
<path class="s" stroke="#ff00ff" d="M1700.8 457.1H1845.6"/>
<text class="lg" transform="translate(1856.4 478.4) scale(1 1.080)">1.3905</text>
<path class="s" stroke="#008000" d="M1700.8 531.2H1845.6"/>
<text class="lg" transform="translate(1856.4 552.5) scale(1 1.080)">1.3965</text>
<path class="s" stroke="#000080" d="M1700.8 605.2H1845.6"/>
<text class="lg" transform="translate(1856.4 626.5) scale(1 1.080)">1.4015</text>
<path class="s" stroke="#8000ff" d="M1700.8 679.3H1845.6"/>
<text class="lg" transform="translate(1856.4 700.6) scale(1 1.080)">1.4072</text>
</g>
</svg></body></html>
